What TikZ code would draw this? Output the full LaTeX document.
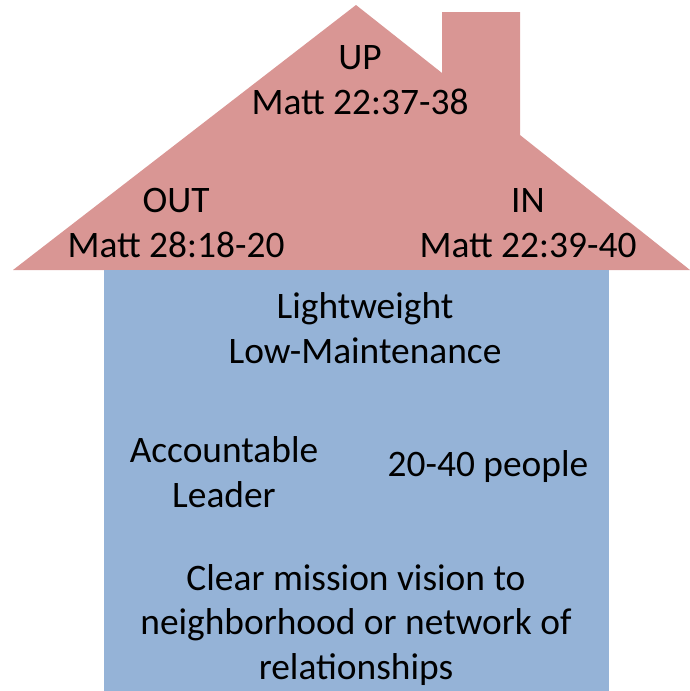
\documentclass[tikz,border=0pt]{standalone}
\usepackage{fontspec}
\setmainfont{Carlito}
\definecolor{roofc}{HTML}{D99694}
\definecolor{bodyc}{HTML}{95B3D7}
\begin{document}
\begin{tikzpicture}[x=1pt,y=-1pt,
  lbl/.style={inner sep=0pt,align=center,font=\fontsize{37.4}{44.5}\selectfont,text=black}]
\useasboundingbox (0,0) rectangle (690,691);
\fill[roofc] (13,270) -- (356,5) -- (442,73) -- (442,12) -- (520,12) -- (520,135) -- (690,270) -- cycle;
\fill[bodyc] (104,270) rectangle (609,691);
\node[lbl] (up) at (360,80) {UP\\Matt 22:37-38};
\node[lbl] (out) at (176,223) {OUT\\Matt 28:18-20};
\node[lbl] (in) at (528,223) {IN\\Matt 22:39-40};
\node[lbl] (lw) at (365,328) {Lightweight\\Low-Maintenance};
\node[lbl] (acc) at (224,472) {Accountable\\Leader};
\node[lbl] (ppl) at (488,467) {20-40 people};
\node[lbl] (clr) at (356,625) {Clear mission vision to\\neighborhood or network of\\relationships};
\end{tikzpicture}
\end{document}
